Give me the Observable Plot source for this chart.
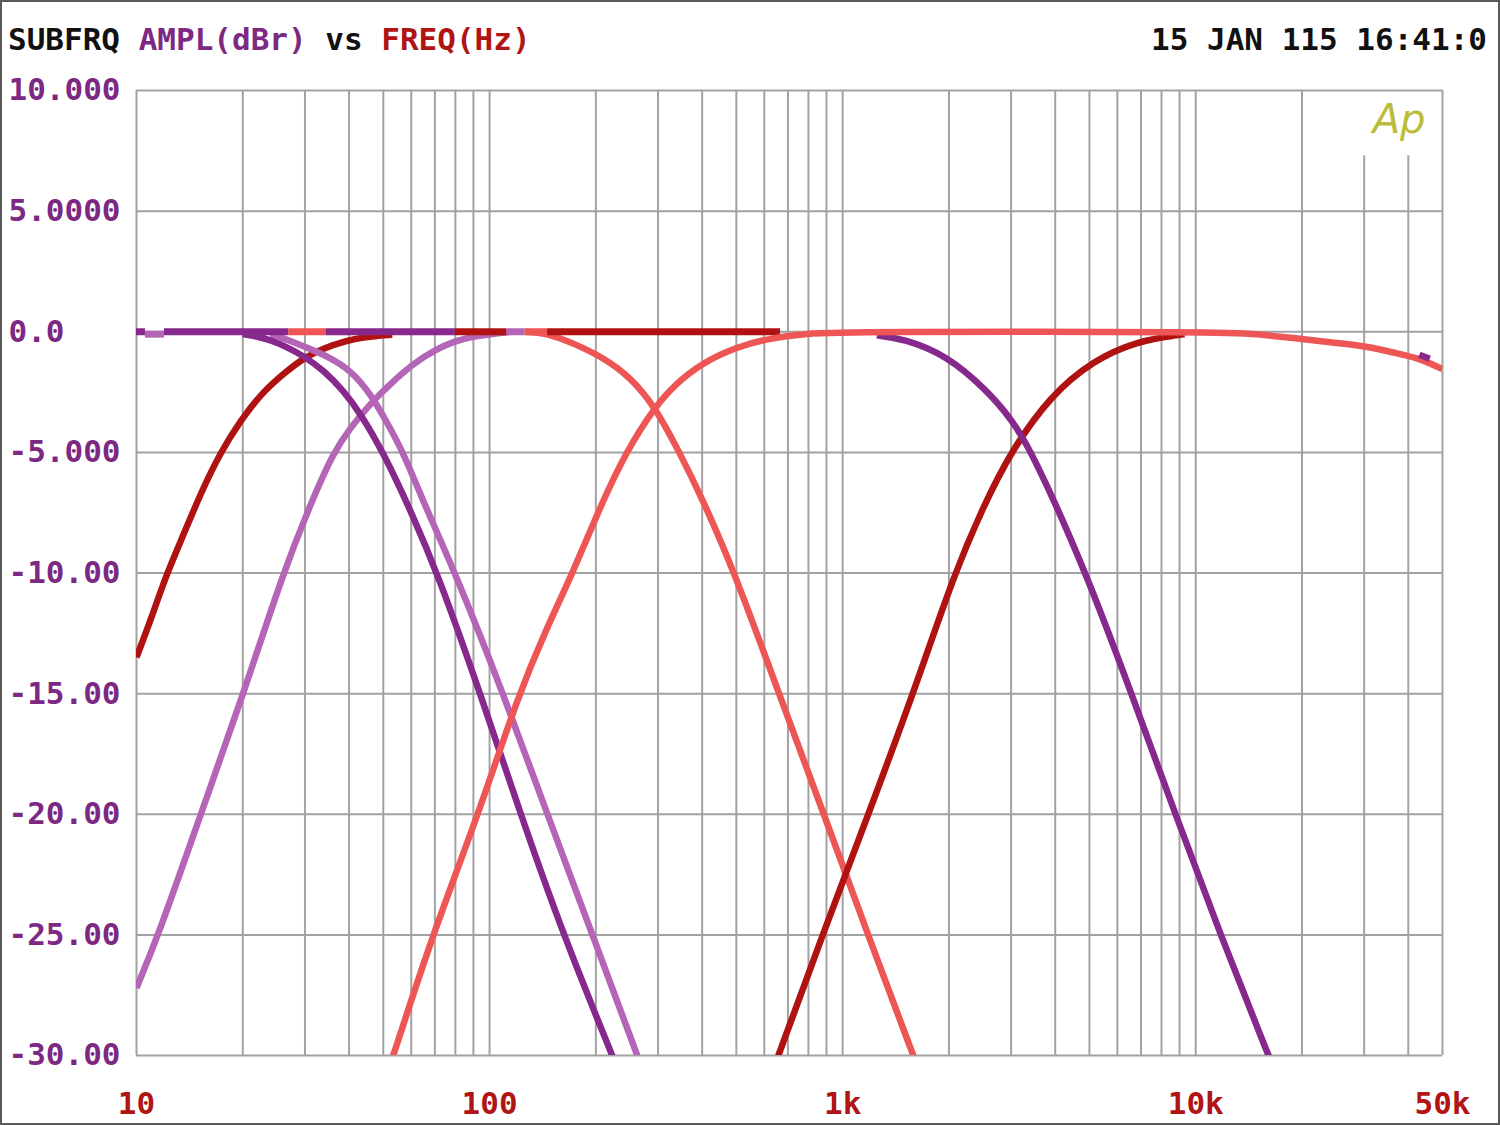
<!DOCTYPE html>
<html>
<head>
<meta charset="utf-8">
<script src="https://cdn.jsdelivr.net/npm/d3@7"></script>
<script src="https://cdn.jsdelivr.net/npm/@observablehq/plot@0.6"></script>
<style>
  body { margin: 0; background: #fff; }
  #wrap { position: relative; width: 1500px; height: 1125px; overflow: hidden; background: #fff; }
  #head { position: relative; height: 60px; font-family: "DejaVu Sans Mono", monospace; font-size: 31px; font-weight: bold; white-space: pre; }
  #head .l { position: absolute; left: 8px; top: 24px; line-height: 31px; color: #111; }
  #head .r { position: absolute; right: 13px; top: 24px; line-height: 31px; color: #111; }
  .pu { color: #7d2882; }
  .rd { color: #b01414; }
  #border { position: absolute; left: 0; top: 0; width: 1500px; height: 1125px; box-sizing: border-box; border: 2px solid #5a5a5a; pointer-events: none; }
</style>
</head>
<body>
<div id="wrap">
  <div id="head"><span class="l">SUBFRQ <span class="pu">AMPL(dBr)</span> vs <span class="rd">FREQ(Hz)</span></span><span class="r">15 JAN 115 16:41:0</span></div>
  <div id="chart"></div>
  <div id="border"></div>
</div>
<script>
// ---- axis ticks and labels ----
const xTicks = [10, 100, 1000, 10000, 50000];
const xTickLabels = ["10", "100", "1k", "10k", "50k"];
const yTicks = [10, 5, 0, -5, -10, -15, -20, -25, -30];
const yTickLabels = ["10.000", "5.0000", "0.0", "-5.000", "-10.00", "-15.00", "-20.00", "-25.00", "-30.00"];
const xGrid = [10, 20, 30, 40, 50, 60, 70, 80, 90,
               100, 200, 300, 400, 500, 600, 700, 800, 900,
               1000, 2000, 3000, 4000, 5000, 6000, 7000, 8000, 9000,
               10000, 20000, 50000];
const xGridBelowLogo = [30000, 40000];

// ---- measured traces: [frequency Hz, amplitude dBr] ----
const darkRedLow = [[10,-13.5],[11,-11.9],[12.2,-10],[13.6,-8.4],[15.3,-6.6],[17.3,-5],[19.7,-3.68],[22.9,-2.45],[26.8,-1.6],[29.7,-1.1],[33.9,-0.68],[39.6,-0.36],[44,-0.22],[53,-0.12]];
const orchidHigh = [[10,-27.2],[11.55,-25],[15.2,-20],[20.1,-15],[26,-10],[31,-7.2],[36.1,-5],[40.4,-3.97],[46,-2.97],[52,-2.2],[61,-1.3],[70,-0.75],[80,-0.38],[90,-0.2],[100,-0.1],[115,0]];
const orchidLow = [[24,-0.1],[27,-0.35],[29.7,-0.6],[35.4,-1.07],[40.4,-1.6],[46,-2.56],[51.4,-3.8],[57,-5],[66,-7.3],[80,-10],[109.4,-15],[145.7,-20],[195.7,-25],[262,-30],[265,-30.2]];
const purpleLow = [[20,-0.1],[22,-0.2],[24,-0.35],[26.8,-0.65],[29.7,-1.0],[33.9,-1.6],[38.5,-2.43],[43.1,-3.39],[50,-5],[59.7,-7.4],[71.2,-10],[94.2,-15],[122.4,-20],[161.7,-25],[222.6,-30],[226,-30.25]];
const salmonLow = [[126,0],[146.7,-0.07],[172.6,-0.48],[207.8,-1.03],[250,-1.86],[294,-3.1],[345,-5],[400,-6.9],[495,-10],[660,-15],[885,-20],[1180,-25],[1585,-30],[1600,-30.15]];
const darkRedHigh = [[650,-30.2],[658,-30],[877,-25],[1183,-20],[1585,-15],[2073,-10],[2512,-7.2],[2985,-5],[3881,-2.64],[5145,-1.17],[6823,-0.39],[8856,-0.14],[9300,-0.1]];
const purpleHigh = [[1250,-0.15],[1489,-0.29],[1976,-0.98],[2566,-2.44],[3000,-3.6],[3447,-5],[4903,-10],[6577,-15],[8760,-20],[11750,-25],[16070,-30],[16300,-30.2]];
const salmonHigh = [[52.5,-30.3],[53.4,-30],[68.9,-25],[93,-20],[121,-15],[145,-12.3],[172,-10],[205,-7.3],[243,-5],[294,-3.1],[338,-2.14],[398,-1.31],[501,-0.62],[631,-0.25],[794,-0.08],[1000,0],[13000,0],[14560,-0.1],[18900,-0.25],[24500,-0.45],[30600,-0.6],[36300,-0.87],[42500,-1.07],[50000,-1.55]];
const purpleTail = [[43000,-0.95],[46000,-1.12]];

// visible 0 dB plateau pieces (which trace lies on top), Hz
const flatFrom   = [10,   10.6,   12,     27,     34.5,   80,      112,    126,    146];
const flatTo     = [10.6, 12,     27,     34.5,   80,     112,     126,    146,    667];
const flatLevel  = [0,    -0.1,   0,      0,      0,      0,       0,      0,      0];
const flatSeries = ["purple","orchid","purple","salmon","purple","darkred","orchid","salmon","darkred"];

const colors = { darkred: "#b01212", purple: "#87288c", orchid: "#b565b6", salmon: "#ee5656" };
const flats = flatFrom.map((f, i) => ({ from: f, to: flatTo[i], level: flatLevel[i], color: colors[flatSeries[i]] }));

const gridStyle = { stroke: "#a2a2a2", strokeWidth: 2, strokeOpacity: 1 };
const lw = 6.5;
const trace = (data, color) => Plot.line(data, { x: d => d[0], y: d => d[1], stroke: color, strokeWidth: lw, curve: "basis", clip: true, strokeLinecap: "butt", strokeLinejoin: "round" });

const chart = Plot.plot({
  width: 1500,
  height: 1065,
  marginLeft: 136,
  marginRight: 58,
  marginTop: 30,
  marginBottom: 70,
  x: { type: "log", domain: [10, 50000], axis: null },
  y: { domain: [-30, 10], axis: null },
  color: { type: "identity" },
  style: { fontFamily: "DejaVu Sans Mono, monospace", fontSize: "31px", fontWeight: "bold", background: "white", overflow: "visible" },
  marks: [
    Plot.ruleX(xGrid, { x: d => d, ...gridStyle }),
    Plot.ruleX(xGridBelowLogo, { x: d => d, y1: -30, y2: 7.3, ...gridStyle }),
    Plot.ruleY(yTicks, { y: d => d, ...gridStyle }),
    trace(darkRedLow, colors.darkred),
    trace(orchidHigh, colors.orchid),
    trace(orchidLow, colors.orchid),
    trace(purpleLow, colors.purple),
    trace(salmonLow, colors.salmon),
    Plot.ruleY(flats, { y: "level", x1: "from", x2: "to", stroke: "color", strokeWidth: 7 }),
    trace(darkRedHigh, colors.darkred),
    trace(purpleHigh, colors.purple),
    trace(salmonHigh, colors.salmon),
    trace(purpleTail, colors.purple),
    Plot.text(["Ap"], { frameAnchor: "top-right", dx: -17, dy: 14, textAnchor: "end", lineAnchor: "top", fill: "#bcbc3a", fontFamily: "DejaVu Sans, sans-serif", fontSize: 40, fontWeight: "normal", fontStyle: "italic" }),
    Plot.text(xTicks, { x: d => d, text: d => xTickLabels[xTicks.indexOf(d)], frameAnchor: "bottom", lineAnchor: "top", dy: 36, fill: "#b01414" }),
    Plot.text(yTicks, { y: d => d, text: d => yTickLabels[yTicks.indexOf(d)], frameAnchor: "left", textAnchor: "start", dx: -128, fill: "#7d2882" })
  ]
});
document.getElementById("chart").appendChild(chart);
</script>
</body>
</html>
